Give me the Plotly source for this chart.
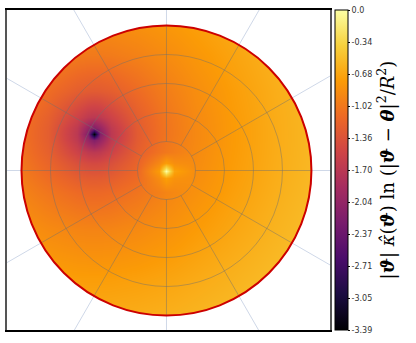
import numpy as np
import plotly.graph_objects as go

# ── Data: field sampled on a (non-uniform) grid, unit disk radius = R ─────────
x_grid = [-1.1, -0.82, -0.62, -0.54, -0.5, -0.46, -0.38, -0.2, -0.05, 0.0, 0.05, 0.2, 0.45, 0.75, 1.13]
y_grid = [-1.1, -0.75, -0.4, -0.15, -0.05, 0.0, 0.05, 0.13, 0.21, 0.25, 0.29, 0.37, 0.55, 0.8, 1.107]

z_rows = [
    [-0.564, -0.592, -0.602, -0.604, -0.604, -0.604, -0.602, -0.593, -0.581, -0.575, -0.570, -0.551, -0.514, -0.466, -0.404],
    [-0.669, -0.716, -0.735, -0.738, -0.738, -0.738, -0.735, -0.719, -0.697, -0.688, -0.679, -0.649, -0.595, -0.528, -0.449],
    [-0.793, -0.882, -0.923, -0.929, -0.930, -0.929, -0.923, -0.887, -0.843, -0.826, -0.810, -0.758, -0.675, -0.585, -0.487],
    [-0.884, -1.036, -1.127, -1.145, -1.147, -1.145, -1.127, -1.047, -0.964, -0.924, -0.899, -0.834, -0.725, -0.617, -0.507],
    [-0.916, -1.106, -1.242, -1.271, -1.275, -1.271, -1.242, -1.120, -0.860, -0.720, -0.820, -0.854, -0.740, -0.626, -0.513],
    [-0.930, -1.140, -1.310, -1.351, -1.356, -1.351, -1.310, -1.148, -0.750, 0.000, -0.700, -0.863, -0.746, -0.630, -0.515],
    [-0.942, -1.173, -1.387, -1.447, -1.456, -1.447, -1.387, -1.185, -0.900, -0.740, -0.850, -0.874, -0.751, -0.633, -0.517],
    [-0.957, -1.217, -1.529, -1.660, -1.684, -1.660, -1.529, -1.236, -1.062, -1.016, -0.978, -0.886, -0.757, -0.636, -0.519],
    [-0.965, -1.243, -1.660, -2.019, -2.174, -2.019, -1.660, -1.271, -1.086, -1.039, -0.996, -0.896, -0.761, -0.638, -0.520],
    [-0.966, -1.246, -1.684, -2.174, -3.390, -2.174, -1.684, -1.275, -1.094, -1.047, -1.005, -0.897, -0.761, -0.639, -0.520],
    [-0.965, -1.243, -1.660, -2.019, -2.174, -2.019, -1.660, -1.271, -1.092, -1.046, -1.003, -0.896, -0.761, -0.638, -0.520],
    [-0.957, -1.217, -1.529, -1.660, -1.684, -1.660, -1.529, -1.242, -1.079, -1.035, -0.994, -0.891, -0.757, -0.636, -0.519],
    [-0.916, -1.106, -1.242, -1.271, -1.275, -1.271, -1.242, -1.120, -1.012, -0.979, -0.947, -0.860, -0.740, -0.626, -0.513],
    [-0.830, -0.940, -0.994, -1.003, -1.005, -1.003, -0.994, -0.947, -0.890, -0.870, -0.850, -0.790, -0.696, -0.599, -0.496],
    [-0.718, -0.778, -0.803, -0.806, -0.807, -0.806, -0.803, -0.781, -0.753, -0.742, -0.730, -0.693, -0.628, -0.553, -0.466],
]

cbar_ticks = [0.0, -0.339, -0.678, -1.017, -1.356, -1.695, -2.034, -2.373, -2.712, -3.051, -3.39]
cbar_labels = ["0.0", "-0.34", "-0.68", "-1.02", "-1.36", "-1.70", "-2.04", "-2.37", "-2.71", "-3.05", "-3.39"]

ring_radii = [0.2, 0.4, 0.6, 0.8]
spoke_angles = list(range(0, 360, 30))

X_RANGE = [-1.1, 1.128]
Y_RANGE = [-1.1, 1.107]

# ── Figure ───────────────────────────────────────────────────────────────────
fig = go.Figure()
fig.add_trace(go.Heatmap(
    x=x_grid, y=y_grid, z=z_rows,
    zmin=-3.39, zmax=0.0, zsmooth="best",
    colorscale="Inferno",
    colorbar=dict(
        x=1.0155, xanchor="left", xpad=0, y=0.5, len=1.0, lenmode="fraction", ypad=0,
        thickness=13, outlinecolor="black", outlinewidth=1,
        tickvals=cbar_ticks, ticktext=cbar_labels,
        ticks="outside", ticklen=2, tickcolor="black",
        tickfont=dict(family="DejaVu Sans", size=8, color="#333"),
        title=dict(
            text="|<b><i>ϑ</i></b>| <i>κ̂</i>(<b><i>ϑ</i></b>) ln (|<b><i>ϑ</i></b> − <b><i>θ</i></b>|<sup>2</sup>/<i>R</i><sup>2</sup>)",
            side="right",
            font=dict(family="DejaVu Serif", size=18, color="black"),
        ),
    ),
    hoverinfo="skip",
))

shapes = []

# white mask outside the unit circle
t = np.linspace(0, 2 * np.pi, 241)
outer = "M -3,-3 L 3,-3 L 3,3 L -3,3 Z "
inner = "M " + " L ".join(f"{np.cos(a):.5f},{np.sin(a):.5f}" for a in t) + " Z"
shapes.append(dict(type="path", path=outer + inner, xref="x", yref="y",
                   fillcolor="white", fillrule="evenodd", line=dict(width=0), layer="above"))

# spokes outside the disk (light) and inside (grey)
for ang in spoke_angles:
    c, s = np.cos(np.radians(ang)), np.sin(np.radians(ang))
    shapes.append(dict(type="line", xref="x", yref="y", x0=c, y0=s, x1=2 * c, y1=2 * s,
                       line=dict(color="#cfd8e8", width=1), layer="above"))
    shapes.append(dict(type="line", xref="x", yref="y", x0=0.2 * c, y0=0.2 * s, x1=c, y1=s,
                       line=dict(color="rgba(110,110,110,0.45)", width=1), layer="above"))

for r in ring_radii:
    shapes.append(dict(type="circle", xref="x", yref="y", x0=-r, y0=-r, x1=r, y1=r,
                       line=dict(color="rgba(110,110,110,0.45)", width=1), layer="above"))

shapes.append(dict(type="circle", xref="x", yref="y", x0=-1, y0=-1, x1=1, y1=1,
                   line=dict(color="#cc0000", width=2), layer="above"))

fig.update_layout(
    width=416, height=343,
    margin=dict(l=7, r=86, t=10, b=13),
    paper_bgcolor="white", plot_bgcolor="white",
    shapes=shapes,
    showlegend=False,
)
fig.update_xaxes(range=X_RANGE, showgrid=False, zeroline=False, showticklabels=False, ticks="",
                 showline=True, mirror=True, linecolor="black", linewidth=1.5)
fig.update_yaxes(range=Y_RANGE, showgrid=False, zeroline=False, showticklabels=False, ticks="",
                 showline=True, mirror=True, linecolor="#555", linewidth=1.5)

# page body has a default 8px margin; drop it so the figure sits at the window origin
fig.write_html("out.html", config={"displayModeBar": False},
               post_script="document.body.style.margin='0px';")
